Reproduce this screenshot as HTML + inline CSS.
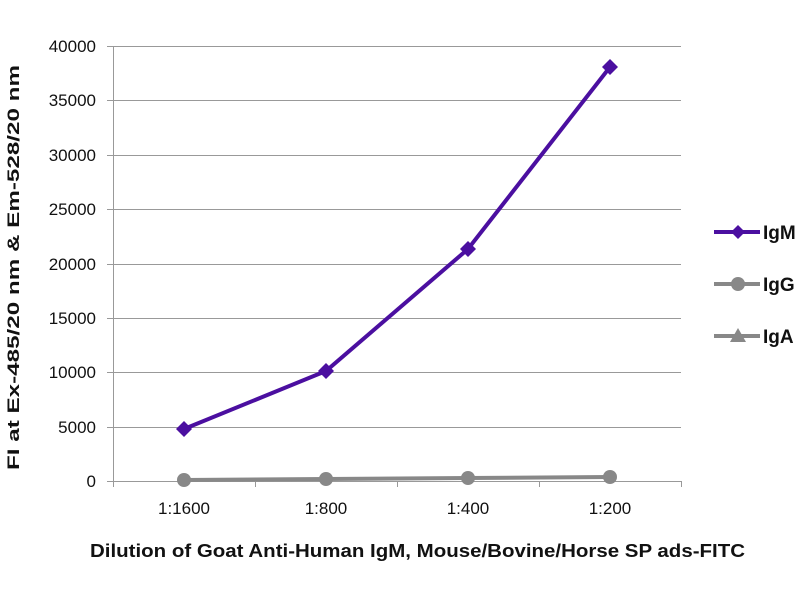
<!DOCTYPE html>
<html><head><style>body{margin:0;background:#fff}</style></head><body>
<svg width="800" height="600" xmlns="http://www.w3.org/2000/svg" font-family="Liberation Sans, sans-serif">
<rect width="800" height="600" fill="#fff"/>
<g stroke="#999" stroke-width="1">
<line x1="107" y1="46.5" x2="681" y2="46.5"/><line x1="107" y1="100.5" x2="681" y2="100.5"/>
<line x1="107" y1="155.5" x2="681" y2="155.5"/><line x1="107" y1="209.5" x2="681" y2="209.5"/>
<line x1="107" y1="264.5" x2="681" y2="264.5"/><line x1="107" y1="318.5" x2="681" y2="318.5"/>
<line x1="107" y1="372.5" x2="681" y2="372.5"/><line x1="107" y1="427.5" x2="681" y2="427.5"/>
<line x1="107" y1="481.5" x2="681" y2="481.5"/>
<line x1="113.5" y1="46" x2="113.5" y2="487"/>
<line x1="255.5" y1="481" x2="255.5" y2="487"/><line x1="397.5" y1="481" x2="397.5" y2="487"/>
<line x1="539.5" y1="481" x2="539.5" y2="487"/><line x1="681.5" y1="481" x2="681.5" y2="487"/>
</g>
<g font-size="17" fill="#111" text-anchor="end">
<text x="96" y="52">40000</text><text x="96" y="106">35000</text><text x="96" y="161">30000</text>
<text x="96" y="215">25000</text><text x="96" y="270">20000</text><text x="96" y="324">15000</text>
<text x="96" y="378">10000</text><text x="96" y="433">5000</text><text x="96" y="487">0</text>
</g>
<g font-size="17" fill="#111" text-anchor="middle">
<text x="184" y="514">1:1600</text><text x="326" y="514">1:800</text><text x="468" y="514">1:400</text><text x="610" y="514">1:200</text>
</g>
<text x="90" y="557" font-size="18" font-weight="bold" fill="#111" textLength="655" lengthAdjust="spacingAndGlyphs">Dilution of Goat Anti-Human IgM, Mouse/Bovine/Horse SP ads-FITC</text>
<text transform="translate(19,470) rotate(-90)" font-size="17" font-weight="bold" fill="#111" textLength="405" lengthAdjust="spacingAndGlyphs">FI at Ex-485/20 nm &amp; Em-528/20 nm</text>
<polyline points="184,480 326,479 468,478 610,477" fill="none" stroke="#888" stroke-width="4"/>
<g fill="#888"><circle cx="184" cy="480" r="7"/><circle cx="326" cy="479" r="7"/><circle cx="468" cy="478" r="7"/><circle cx="610" cy="477" r="7"/></g>
<polyline points="184,429 326,371 468,249 610,67" fill="none" stroke="#4b0fa0" stroke-width="4"/>
<g fill="#4b0fa0">
<polygon points="184,421 192,429 184,437 176,429"/><polygon points="326,363 334,371 326,379 318,371"/>
<polygon points="468,241 476,249 468,257 460,249"/><polygon points="610,59 618,67 610,75 602,67"/>
</g>
<line x1="714" y1="232" x2="760" y2="232" stroke="#4b0fa0" stroke-width="4"/>
<polygon points="738,225 745,232 738,239 731,232" fill="#4b0fa0"/>
<line x1="714" y1="284" x2="760" y2="284" stroke="#888" stroke-width="4"/>
<circle cx="738" cy="284" r="7" fill="#888"/>
<line x1="714" y1="336" x2="760" y2="336" stroke="#888" stroke-width="4"/>
<polygon points="738,328 746,342 730,342" fill="#888"/>
<g font-size="19" font-weight="bold" fill="#111">
<text x="763" y="239">IgM</text><text x="763" y="291">IgG</text><text x="763" y="343">IgA</text>
</g>
</svg>
</body></html>
